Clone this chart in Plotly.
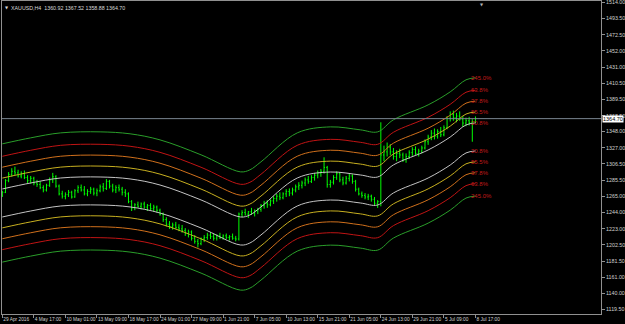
import plotly.graph_objects as go

# ---------------- data ----------------
caption = "XAUUSD,H4  1360.92 1367.52 1358.88 1364.70"

# bar indices (H4 bars, every second bar shown)
bars = list(range(0, 301, 2))

opens = [1266, 1270, 1285, 1293, 1297, 1295, 1291, 1294, 1289, 1285,
         1288, 1282, 1280, 1276, 1273, 1279, 1286, 1290, 1278, 1268,
         1265, 1267, 1270, 1264, 1272, 1276, 1273, 1268, 1271, 1274,
         1269, 1272, 1277, 1275, 1284, 1278, 1273, 1276, 1274, 1270,
         1268, 1258, 1250, 1254, 1252, 1255, 1251, 1253, 1249, 1251,
         1247, 1242, 1235, 1229, 1226, 1228, 1225, 1223, 1221, 1217,
         1219, 1211, 1207, 1204, 1210, 1212, 1215, 1213, 1211, 1214,
         1212, 1214, 1212, 1213, 1211, 1210, 1242, 1244, 1242, 1245,
         1243, 1246, 1248, 1253, 1256, 1254, 1259, 1262, 1265, 1263,
         1268, 1271, 1269, 1273, 1277, 1279, 1282, 1286, 1284, 1289,
         1292, 1295, 1297, 1302, 1280, 1283, 1289, 1294, 1286, 1282,
         1288, 1291, 1284, 1274, 1268, 1266, 1264, 1265, 1261, 1256,
         1258, 1318, 1322, 1328, 1322, 1316, 1320, 1318, 1312, 1316,
         1321, 1325, 1320, 1323, 1327, 1335, 1341, 1346, 1342, 1348,
         1344, 1353, 1365, 1370, 1366, 1368, 1364, 1359, 1362, 1360,
         1360.92]
highs = [1272, 1287, 1296, 1301, 1303, 1299, 1297, 1298, 1292, 1291,
         1290, 1286, 1284, 1279, 1281, 1289, 1295, 1292, 1280, 1272,
         1270, 1273, 1272, 1274, 1279, 1280, 1278, 1274, 1277, 1276,
         1275, 1280, 1282, 1287, 1286, 1281, 1279, 1280, 1277, 1274,
         1270, 1260, 1256, 1258, 1257, 1258, 1255, 1256, 1254, 1253,
         1249, 1244, 1238, 1233, 1231, 1232, 1229, 1228, 1224, 1222,
         1221, 1215, 1210, 1212, 1215, 1218, 1219, 1217, 1216, 1218,
         1216, 1217, 1215, 1217, 1214, 1244, 1247, 1249, 1246, 1250,
         1248, 1250, 1255, 1259, 1260, 1261, 1265, 1268, 1270, 1270,
         1274, 1275, 1276, 1280, 1283, 1285, 1289, 1291, 1292, 1295,
         1298, 1300, 1315, 1304, 1286, 1292, 1297, 1296, 1290, 1291,
         1294, 1293, 1286, 1276, 1271, 1269, 1268, 1267, 1264, 1260,
         1360, 1330, 1334, 1332, 1327, 1324, 1326, 1321, 1320, 1324,
         1328, 1329, 1326, 1330, 1338, 1344, 1350, 1352, 1351, 1354,
         1356, 1368, 1374, 1375, 1372, 1374, 1368, 1366, 1367, 1364,
         1367.52]
lows = [1264, 1269, 1283, 1290, 1292, 1289, 1288, 1287, 1282, 1281,
        1279, 1277, 1274, 1270, 1271, 1277, 1282, 1276, 1266, 1262,
        1261, 1264, 1262, 1263, 1269, 1271, 1266, 1265, 1268, 1266,
        1265, 1270, 1271, 1273, 1275, 1270, 1269, 1271, 1266, 1264,
        1256, 1246, 1247, 1250, 1248, 1249, 1246, 1247, 1245, 1244,
        1240, 1232, 1226, 1223, 1222, 1223, 1220, 1218, 1214, 1212,
        1208, 1204, 1199, 1202, 1206, 1209, 1210, 1208, 1208, 1210,
        1209, 1210, 1208, 1209, 1207, 1208, 1238, 1240, 1237, 1241,
        1239, 1242, 1245, 1249, 1250, 1252, 1255, 1258, 1260, 1261,
        1264, 1265, 1266, 1270, 1273, 1275, 1278, 1281, 1282, 1285,
        1288, 1290, 1294, 1276, 1276, 1280, 1286, 1283, 1279, 1280,
        1284, 1281, 1271, 1266, 1263, 1261, 1260, 1258, 1253, 1250,
        1252, 1310, 1316, 1318, 1312, 1310, 1314, 1309, 1308, 1313,
        1317, 1318, 1316, 1320, 1325, 1331, 1337, 1338, 1339, 1341,
        1342, 1351, 1361, 1362, 1360, 1362, 1354, 1355, 1356, 1335,
        1358.88]
closes = [1270, 1285, 1293, 1297, 1295, 1291, 1294, 1289, 1285, 1288,
          1282, 1280, 1276, 1273, 1279, 1286, 1290, 1278, 1268, 1265,
          1267, 1270, 1264, 1272, 1276, 1273, 1268, 1271, 1274, 1269,
          1272, 1277, 1275, 1284, 1278, 1273, 1276, 1274, 1270, 1268,
          1258, 1250, 1254, 1252, 1255, 1251, 1253, 1249, 1251, 1247,
          1242, 1235, 1229, 1226, 1228, 1225, 1223, 1221, 1217, 1219,
          1211, 1207, 1204, 1210, 1212, 1215, 1213, 1211, 1214, 1212,
          1214, 1212, 1213, 1211, 1210, 1242, 1244, 1242, 1245, 1243,
          1246, 1248, 1253, 1256, 1254, 1259, 1262, 1265, 1263, 1268,
          1271, 1269, 1273, 1277, 1279, 1282, 1286, 1284, 1289, 1292,
          1295, 1297, 1302, 1280, 1283, 1289, 1294, 1286, 1282, 1288,
          1291, 1284, 1274, 1268, 1266, 1264, 1265, 1261, 1256, 1258,
          1318, 1322, 1328, 1322, 1316, 1320, 1318, 1312, 1316, 1321,
          1325, 1320, 1323, 1327, 1335, 1341, 1346, 1342, 1348, 1344,
          1353, 1365, 1370, 1366, 1368, 1364, 1359, 1362, 1360, 1361,
          1364.70]

# band centre line, sampled along the chart (bar index, price)
mid_bars = [0, 18, 37, 62, 81, 100, 126, 151, 157, 164, 187, 208, 227, 238, 248, 270, 284, 294, 300]
mid_vals = [1256.3, 1264.0, 1270.4, 1271.7, 1269.2, 1261.4, 1242.2, 1220.3, 1222.9, 1233.2,
            1270.4, 1278.1, 1274.3, 1271.7, 1287.2, 1306.4, 1323.1, 1338.6, 1341.2]

# band offsets from the centre line (price units), outer to inner
band_offsets = [76, 60, 46, 32, 18]
band_colors = ["#2a9e2a", "#c01414", "#d0701c", "#c8b020", "#c4c4c4"]
band_labels_upper = ["245.0%", "63.8%", "37.8%", "55.5%", "20.8%"]
band_labels_lower = ["245.0%", "63.8%", "37.8%", "55.5%", "20.8%"]

tick_bars = list(range(0, 301, 20))
tick_labels = ["29 Apr 2016", "4 May 17:00", "10 May 01:00", "13 May 09:00", "18 May 17:00",
               "24 May 01:00", "27 May 09:00", "1 Jun 21:00", "7 Jun 05:00", "10 Jun 13:00",
               "15 Jun 21:00", "21 Jun 05:00", "24 Jun 13:00", "29 Jun 21:00", "5 Jul 09:00",
               "8 Jul 17:00"]

price_ticks = [1514.00, 1493.50, 1472.50, 1452.00, 1431.00, 1410.50, 1389.50, 1368.50, 1348.00,
               1327.00, 1306.50, 1285.50, 1265.00, 1244.00, 1223.00, 1202.50, 1181.50, 1161.00,
               1140.00, 1119.50]

bid_price = 1364.70

# ---------------- figure ----------------
fig = go.Figure()

annotations = []
for off, col, lu, ll in zip(band_offsets, band_colors, band_labels_upper, band_labels_lower):
    up = [m + off for m in mid_vals]
    dn = [m - off for m in mid_vals]
    for vals, lab in ((up, lu), (dn, ll)):
        fig.add_trace(go.Scatter(x=mid_bars, y=vals, mode="lines",
                                 line=dict(color=col, width=1, shape="spline", smoothing=1.0),
                                 hoverinfo="skip", showlegend=False))
        annotations.append(dict(x=mid_bars[-1] - 4, y=vals[-1], xref="x", yref="y",
                                text=lab, showarrow=False, xanchor="left", yanchor="middle",
                                font=dict(family="Liberation Sans", size=6, color="#c41a1a")))

fig.add_trace(go.Ohlc(x=bars, open=opens, high=highs, low=lows, close=closes,
                      increasing=dict(line=dict(color="#00ff00", width=1)),
                      decreasing=dict(line=dict(color="#00ff00", width=1)),
                      tickwidth=0.3, showlegend=False, hoverinfo="skip"))

fig.add_shape(type="line", xref="paper", x0=0, x1=1, yref="y", y0=bid_price, y1=bid_price,
              line=dict(color="#7a8590", width=1))

annotations.append(dict(x=1, xref="paper", y=bid_price, yref="y", text=f"{bid_price:.2f}",
                        showarrow=False, xanchor="left", yanchor="middle", xshift=1,
                        bgcolor="#ffffff", borderpad=0,
                        font=dict(family="Liberation Sans", size=5.5, color="#000000")))
annotations.append(dict(x=0, xref="paper", y=1, yref="paper", text=caption, showarrow=False,
                        xanchor="left", yanchor="top", xshift=7, yshift=-2,
                        font=dict(family="Liberation Sans", size=5.3, color="#d8d8d8")))
annotations.append(dict(x=0, xref="paper", y=1, yref="paper", text="▼", showarrow=False,
                        xanchor="left", yanchor="top", xshift=1, yshift=-2,
                        font=dict(family="DejaVu Sans", size=4, color="#d8d8d8")))
annotations.append(dict(x=304, xref="x", y=1, yref="paper", text="▼", showarrow=False,
                        xanchor="center", yanchor="top", yshift=1,
                        font=dict(family="DejaVu Sans", size=4, color="#b0b0b0")))

fig.update_layout(
    width=625, height=324,
    margin=dict(l=2, r=24, t=1, b=10, autoexpand=False),
    paper_bgcolor="#000000", plot_bgcolor="#000000",
    showlegend=False,
    annotations=annotations,
    xaxis=dict(range=[-0.2, 379.6], tickmode="array", tickvals=tick_bars, ticktext=tick_labels,
               ticks="outside", ticklen=3, tickcolor="#909090", tickangle=0, automargin=False,
               ticklabelposition="outside right", ticklabeloverflow="allow",
               tickfont=dict(family="Liberation Sans", size=4.8, color="#d0d0d0"),
               showgrid=False, zeroline=False, showline=True, linecolor="#909090",
               linewidth=1, mirror=True, rangeslider=dict(visible=False), fixedrange=True),
    yaxis=dict(side="right", range=[1113.6, 1515.9], tickmode="array", tickvals=price_ticks,
               ticktext=[f"{v:.2f}" for v in price_ticks], automargin=False,
               ticks="outside", ticklen=3, tickcolor="#909090", ticklabeloverflow="allow",
               tickfont=dict(family="Liberation Sans", size=5.3, color="#d0d0d0"),
               showgrid=False, zeroline=False, showline=True, linecolor="#909090",
               linewidth=1, mirror=True, fixedrange=True),
)

fig.write_html("out.html")
